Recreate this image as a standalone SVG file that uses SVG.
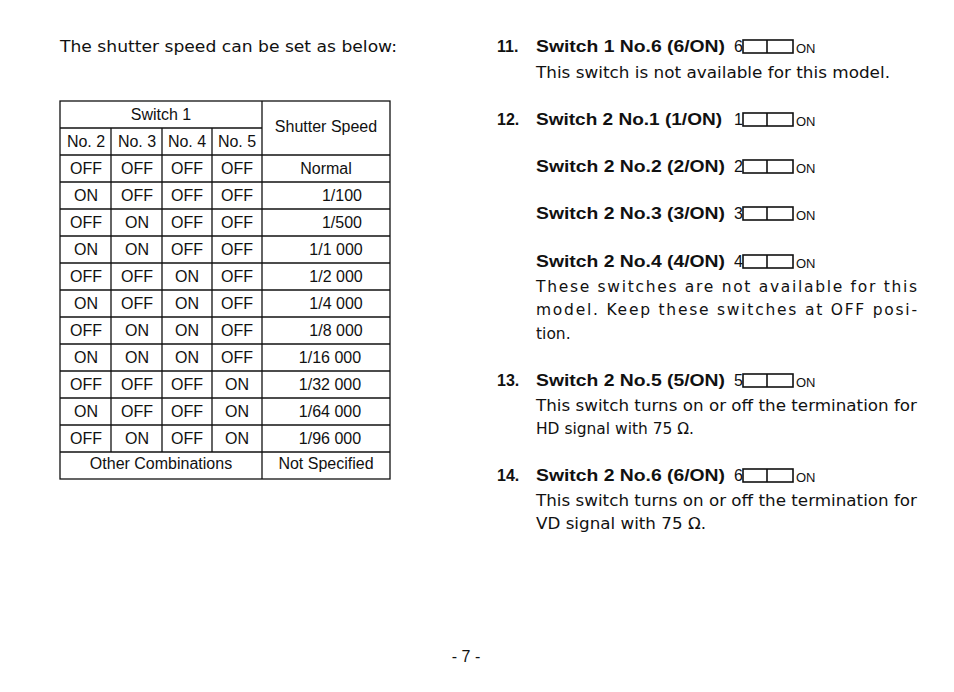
<svg xmlns="http://www.w3.org/2000/svg" width="954" height="692" viewBox="0 0 954 692">
<style>
text{font-family:"Liberation Sans",Arial,sans-serif;font-size:16px;fill:#111}
.w{font-family:"DejaVu Sans",sans-serif;font-size:15.5px}
.b{font-weight:bold}
.c{text-anchor:middle}
.t line,.t rect{stroke:#111;stroke-width:1.3;fill:none}
.sw{stroke:#111;stroke-width:1.6;fill:none}
.on{font-size:13px}
</style>
<rect width="954" height="692" fill="#fff"/>
<text x="60" y="52" class="w" textLength="337" lengthAdjust="spacingAndGlyphs">The shutter speed can be set as below:</text>
<g class="t">
<rect x="60" y="101" width="330" height="378"/>
<line x1="60" y1="128" x2="262" y2="128"/>
<line x1="262" y1="101" x2="262" y2="479"/>
<line x1="111" y1="128" x2="111" y2="452"/>
<line x1="162" y1="128" x2="162" y2="452"/>
<line x1="212" y1="128" x2="212" y2="452"/>
<line x1="60" y1="155" x2="390" y2="155"/>
<line x1="60" y1="182" x2="390" y2="182"/>
<line x1="60" y1="209" x2="390" y2="209"/>
<line x1="60" y1="236" x2="390" y2="236"/>
<line x1="60" y1="263" x2="390" y2="263"/>
<line x1="60" y1="290" x2="390" y2="290"/>
<line x1="60" y1="317" x2="390" y2="317"/>
<line x1="60" y1="344" x2="390" y2="344"/>
<line x1="60" y1="371" x2="390" y2="371"/>
<line x1="60" y1="398" x2="390" y2="398"/>
<line x1="60" y1="425" x2="390" y2="425"/>
<line x1="60" y1="452" x2="390" y2="452"/>
</g>
<text x="161" y="120" class="c">Switch 1</text>
<text x="326" y="132" class="c">Shutter Speed</text>
<text x="86" y="147" class="c">No. 2</text><text x="137" y="147" class="c">No. 3</text><text x="187" y="147" class="c">No. 4</text><text x="237" y="147" class="c">No. 5</text>
<g class="c">
<text x="86" y="174" class="c">OFF</text><text x="137" y="174" class="c">OFF</text><text x="187" y="174" class="c">OFF</text><text x="237" y="174" class="c">OFF</text><text x="326" y="174" class="c">Normal</text>
<text x="86" y="201" class="c">ON</text><text x="137" y="201" class="c">OFF</text><text x="187" y="201" class="c">OFF</text><text x="237" y="201" class="c">OFF</text><text x="342" y="201" class="c">1/100</text>
<text x="86" y="228" class="c">OFF</text><text x="137" y="228" class="c">ON</text><text x="187" y="228" class="c">OFF</text><text x="237" y="228" class="c">OFF</text><text x="342" y="228" class="c">1/500</text>
<text x="86" y="255" class="c">ON</text><text x="137" y="255" class="c">ON</text><text x="187" y="255" class="c">OFF</text><text x="237" y="255" class="c">OFF</text><text x="336" y="255" class="c">1/1 000</text>
<text x="86" y="282" class="c">OFF</text><text x="137" y="282" class="c">OFF</text><text x="187" y="282" class="c">ON</text><text x="237" y="282" class="c">OFF</text><text x="336" y="282" class="c">1/2 000</text>
<text x="86" y="309" class="c">ON</text><text x="137" y="309" class="c">OFF</text><text x="187" y="309" class="c">ON</text><text x="237" y="309" class="c">OFF</text><text x="336" y="309" class="c">1/4 000</text>
<text x="86" y="336" class="c">OFF</text><text x="137" y="336" class="c">ON</text><text x="187" y="336" class="c">ON</text><text x="237" y="336" class="c">OFF</text><text x="336" y="336" class="c">1/8 000</text>
<text x="86" y="363" class="c">ON</text><text x="137" y="363" class="c">ON</text><text x="187" y="363" class="c">ON</text><text x="237" y="363" class="c">OFF</text><text x="330" y="363" class="c">1/16 000</text>
<text x="86" y="390" class="c">OFF</text><text x="137" y="390" class="c">OFF</text><text x="187" y="390" class="c">OFF</text><text x="237" y="390" class="c">ON</text><text x="330" y="390" class="c">1/32 000</text>
<text x="86" y="417" class="c">ON</text><text x="137" y="417" class="c">OFF</text><text x="187" y="417" class="c">OFF</text><text x="237" y="417" class="c">ON</text><text x="330" y="417" class="c">1/64 000</text>
<text x="86" y="444" class="c">OFF</text><text x="137" y="444" class="c">ON</text><text x="187" y="444" class="c">OFF</text><text x="237" y="444" class="c">ON</text><text x="330" y="444" class="c">1/96 000</text>
<text x="161" y="469" class="c">Other Combinations</text><text x="326" y="469" class="c">Not Specified</text>
</g>
<g class="b">
<text x="497" y="52" class="b">11.</text><text x="536" y="52" class="b" textLength="189" lengthAdjust="spacingAndGlyphs">Switch 1 No.6 (6/ON)</text>
<text x="497" y="125" class="b">12.</text><text x="536" y="125" class="b" textLength="186" lengthAdjust="spacingAndGlyphs">Switch 2 No.1 (1/ON)</text>
<text x="536" y="172" class="b" textLength="189" lengthAdjust="spacingAndGlyphs">Switch 2 No.2 (2/ON)</text>
<text x="536" y="219" class="b" textLength="189" lengthAdjust="spacingAndGlyphs">Switch 2 No.3 (3/ON)</text>
<text x="536" y="267" class="b" textLength="189" lengthAdjust="spacingAndGlyphs">Switch 2 No.4 (4/ON)</text>
<text x="497" y="386" class="b">13.</text><text x="536" y="386" class="b" textLength="189" lengthAdjust="spacingAndGlyphs">Switch 2 No.5 (5/ON)</text>
<text x="497" y="481" class="b">14.</text><text x="536" y="481" class="b" textLength="189" lengthAdjust="spacingAndGlyphs">Switch 2 No.6 (6/ON)</text>
</g>
<text x="734" y="52">6</text><text x="734" y="125">1</text><text x="734" y="172">2</text><text x="734" y="219">3</text><text x="734" y="267">4</text><text x="734" y="386">5</text><text x="734" y="481">6</text>
<g class="w">
<text x="536" y="78" class="w" textLength="354" lengthAdjust="spacingAndGlyphs">This switch is not available for this model.</text>
<text x="536" y="292" class="w" textLength="381">These switches are not available for this</text>
<text x="536" y="315" class="w" textLength="381">model. Keep these switches at OFF posi-</text>
<text x="536" y="339" class="w">tion.</text>
<text x="536" y="411" class="w" textLength="381" lengthAdjust="spacingAndGlyphs">This switch turns on or off the termination for</text>
<text x="536" y="434" class="w" textLength="158" lengthAdjust="spacingAndGlyphs">HD signal with 75 Ω.</text>
<text x="536" y="506" class="w" textLength="381" lengthAdjust="spacingAndGlyphs">This switch turns on or off the termination for</text>
<text x="536" y="529" class="w" textLength="170" lengthAdjust="spacingAndGlyphs">VD signal with 75 Ω.</text>
</g>
<g class="sw">
<rect x="743" y="40" width="50" height="13"/><line x1="767" y1="40" x2="767" y2="53"/>
<rect x="743" y="113" width="50" height="13"/><line x1="767" y1="113" x2="767" y2="126"/>
<rect x="743" y="160" width="50" height="13"/><line x1="767" y1="160" x2="767" y2="173"/>
<rect x="743" y="207" width="50" height="13"/><line x1="767" y1="207" x2="767" y2="220"/>
<rect x="743" y="255" width="50" height="13"/><line x1="767" y1="255" x2="767" y2="268"/>
<rect x="743" y="374" width="50" height="13"/><line x1="767" y1="374" x2="767" y2="387"/>
<rect x="743" y="469" width="50" height="13"/><line x1="767" y1="469" x2="767" y2="482"/>
</g>
<text x="796" y="53" class="on">ON</text><text x="796" y="126" class="on">ON</text><text x="796" y="173" class="on">ON</text><text x="796" y="220" class="on">ON</text><text x="796" y="268" class="on">ON</text><text x="796" y="387" class="on">ON</text><text x="796" y="482" class="on">ON</text>
<text x="466" y="662" class="c">- 7 -</text>
</svg>
